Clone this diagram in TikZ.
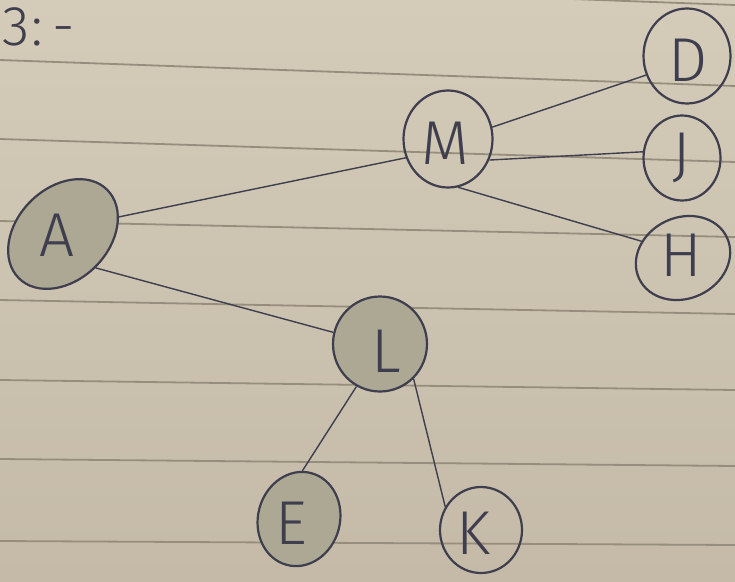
\documentclass[tikz,border=0pt]{standalone}
\usepackage{fontspec}
\newfontfamily\hand{Fira Sans Light}
\usetikzlibrary{shapes.geometric}
\definecolor{paperTop}{RGB}{212,203,185}
\definecolor{paperBottom}{RGB}{196,186,167}
\definecolor{ruling}{RGB}{150,141,125}
\definecolor{ink}{RGB}{62,62,78}
\definecolor{pencil}{RGB}{172,168,148}
\begin{document}
\begin{tikzpicture}[x=1pt,y=-1pt,
  vertex/.style={ellipse, draw=ink, line width=2.2pt, inner sep=0pt},
  shaded/.style={fill=pencil},
  letter/.style={font=\hand\fontsize{62}{62}\selectfont, text=ink, inner sep=0pt},
  edge/.style={draw=ink, line width=1.4pt},
  ruleline/.style={draw=ruling, line width=1.8pt}]
\useasboundingbox (0,0) rectangle (735,581);
% ruled notebook paper
\shade[top color=paperTop, bottom color=paperBottom] (0,0) rectangle (735,581);
\foreach \a/\b in {-22/5, 60/86, 139/162, 221/237, 300/314, 380/390, 459/466, 541/545}
  \draw[ruleline] (0,\a) -- (735,\b);
% heading
\node[letter, anchor=base west, font=\hand\fontsize{56}{56}\selectfont] (head) at (2,45) {3\kern2pt:\kern10pt-};
% vertices
\node[vertex, shaded, minimum width=125pt, minimum height=92pt, rotate=45] (A) at (63,234) {};
\node[vertex, minimum width=89pt, minimum height=97pt] (M) at (448,139) {};
\node[vertex, minimum width=87pt, minimum height=95pt] (D) at (687,56) {};
\node[vertex, minimum width=77pt, minimum height=85pt] (J) at (682,158) {};
\node[vertex, minimum width=97pt, minimum height=81pt, rotate=25] (H) at (683,258) {};
\node[vertex, shaded, minimum width=94pt, minimum height=95pt] (L) at (380,344) {};
\node[vertex, shaded, minimum width=82pt, minimum height=95pt, rotate=-15] (E) at (299,519) {};
\node[vertex, minimum width=82pt, minimum height=86pt] (K) at (481,530) {};
% vertex letters
\node[letter] (tA) at (57,235) {A};
\node[letter] (tM) at (445,143) {M};
\node[letter] (tD) at (688,60) {D};
\node[letter] (tJ) at (682,158) {J};
\node[letter] (tH) at (681,255) {H};
\node[letter] (tL) at (386,351) {L};
\node[letter] (tE) at (291,523) {E};
\node[letter] (tK) at (473,533) {K};
% edges
\draw[edge] (A.-28) -- (M.204);
\draw[edge] (A.-91) -- (L.166);
\draw[edge] (M.15) -- (D.205);
\draw[edge] (M.-27) -- (J.171);
\draw[edge] (M.-78) -- (H.133);
\draw[edge] (L.241) -- (E.101);
\draw[edge] (L.-46) -- (K.147);
\end{tikzpicture}
\end{document}
